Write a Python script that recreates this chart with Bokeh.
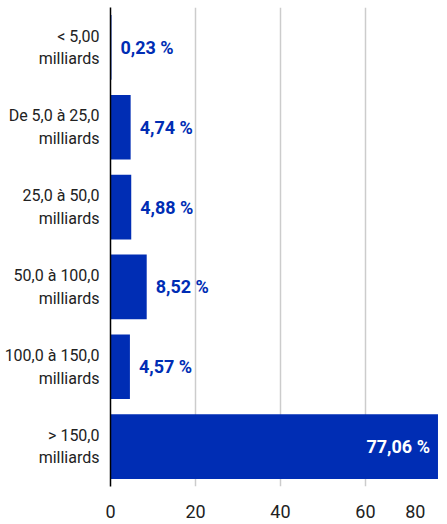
from bokeh.plotting import figure
from bokeh.models import ColumnDataSource, Range1d, FactorRange, FixedTicker
from bokeh.core.properties import value
from bokeh.embed import file_html
from bokeh.resources import INLINE

categories = ["< 5,00\nmilliards", "De 5,0 à 25,0\nmilliards", "25,0 à 50,0\nmilliards",
              "50,0 à 100,0\nmilliards", "100,0 à 150,0\nmilliards", "> 150,0\nmilliards"]
values = [0.23, 4.74, 4.88, 8.52, 4.57, 77.06]
x_ticks = [0, 20, 40, 60, 80]
x_visible_max = 79.3  # the reference cuts the 0-80 axis just before 80

FONT = "Roboto"
BLUE = "#002db4"

labels = [f"{v:.2f}".replace(".", ",") + " %" for v in values]
vmax = max(values)
out_idx = [i for i, v in enumerate(values) if v != vmax]
in_idx = [i for i, v in enumerate(values) if v == vmax]

src = ColumnDataSource(dict(y=categories, v=values))
src_out = ColumnDataSource(dict(y=[categories[i] for i in out_idx], v=[values[i] for i in out_idx],
                                t=[labels[i] for i in out_idx]))
src_in = ColumnDataSource(dict(y=[categories[i] for i in in_idx], v=[values[i] for i in in_idx],
                               t=[labels[i] for i in in_idx]))

p = figure(width=447, height=524, output_backend="svg", toolbar_location=None,
           y_range=FactorRange(factors=list(reversed(categories))),
           x_range=Range1d(x_ticks[0], x_visible_max), min_border_left=110, min_border_right=0,
           min_border_top=7, min_border_bottom=37)
p.outline_line_color = None
p.background_fill_color = "white"

p.hbar(y="y", right="v", left=0, height=0.81, source=src, color=BLUE, line_color=None)

p.text(x="v", y="y", text="t", source=src_out, x_offset=9, text_align="left",
       text_baseline="middle", text_color=BLUE, text_font=value(FONT),
       text_font_style="bold", text_font_size="18px")
p.text(x="v", y="y", text="t", source=src_in, x_offset=-8, text_align="right",
       text_baseline="middle", text_color="white", text_font=value(FONT),
       text_font_style="bold", text_font_size="18px")

# gridlines at the real ticks (80 falls just outside the visible area)
p.ygrid.grid_line_color = None
p.xgrid.ticker = FixedTicker(ticks=x_ticks)
p.xgrid.grid_line_color = "#cccccc"
p.xgrid.grid_line_width = 1.5

# axis labels: the last tick label (80) is pinned at the visible edge so it stays readable
label_ticks = x_ticks[:-1] + [x_visible_max]
p.xaxis.ticker = FixedTicker(ticks=label_ticks)
p.xaxis.major_label_overrides = {x_visible_max: str(x_ticks[-1]) + "\u2003\u2009"}
p.xaxis.axis_line_color = None
p.xaxis.major_tick_line_color = None
p.xaxis.minor_tick_line_color = None
p.xaxis.major_tick_out = 0
p.xaxis.major_tick_in = 0
p.xaxis.minor_tick_out = 0
p.xaxis.major_label_standoff = 14
p.xaxis.major_label_text_font = FONT
p.xaxis.major_label_text_font_size = "18px"
p.xaxis.major_label_text_color = "#222222"

p.yaxis.axis_line_color = "black"
p.yaxis.axis_line_width = 1.5
p.yaxis.major_tick_line_color = None
p.yaxis.minor_tick_line_color = None
p.yaxis.major_tick_out = 0
p.yaxis.major_tick_in = 0
p.yaxis.minor_tick_out = 0
p.yaxis.major_label_standoff = 11
p.yaxis.major_label_text_font = FONT
p.yaxis.major_label_text_font_size = "16px"
p.yaxis.major_label_text_color = "#222222"
p.yaxis.major_label_text_align = "right"

open("out.html", "w").write(file_html(p, INLINE))
